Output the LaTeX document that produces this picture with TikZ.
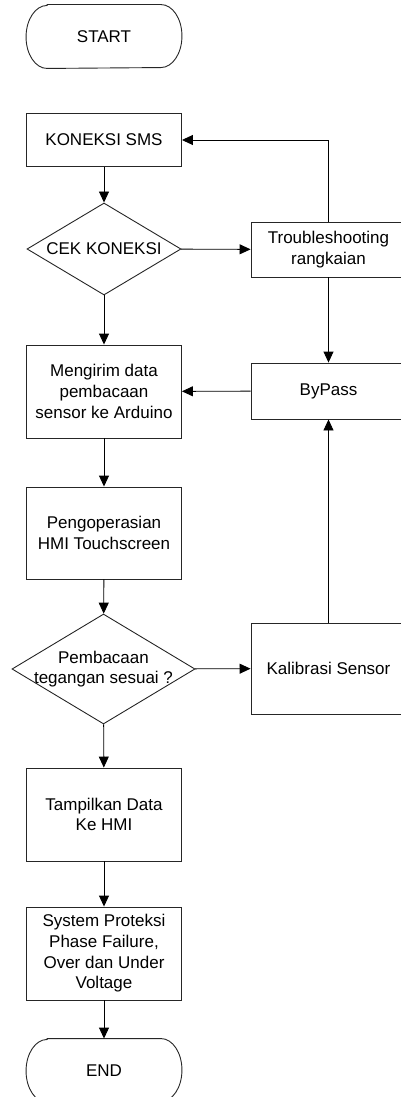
\documentclass[tikz,border=0pt]{standalone}
\usepackage{fontspec}
\setmainfont{Liberation Sans}
\usetikzlibrary{arrows.meta,shapes.geometric}
\begin{document}
\begin{tikzpicture}[x=1pt,y=-1pt,
  font=\fontsize{17}{20.7}\selectfont,
  line width=0.9pt,
  box/.style={draw=black!85, minimum width=155pt, align=center, inner sep=2pt},
  term/.style={minimum width=155pt, minimum height=63pt, align=center},
  dec/.style={diamond, draw=black!85, align=center, inner sep=0pt},
  lbl/.style={align=center, inner sep=0pt},
  arr/.style={-{Triangle[length=11pt,width=10pt]}, draw=black},
  con/.style={draw=black}
]
\useasboundingbox (0,0) rectangle (401,1097);
\clip (0,0) rectangle (401,1097);
\fill[white] (0,0) rectangle (401,1097);

% nodes
\node[term] (start) at (104,36.5) {START};
\node[box, minimum height=53pt] (sms) at (104,140) {KONEKSI SMS};
\node[dec, minimum width=154pt, minimum height=92pt] (cek) at (104,249) {};
\node[lbl] (cekt) at (cek.center) {CEK KONEKSI};
\node[box, minimum height=55pt] (tb) at (328.5,249.5) {Troubleshooting\\rangkaian};
\node[box, minimum height=56pt] (bp) at (328.5,391) {ByPass};
\node[box, minimum height=93pt] (kirim) at (104,391.5) {Mengirim data\\pembacaan\\sensor ke Arduino};
\node[box, minimum height=92pt] (hmi) at (104,533) {Pengoperasian\\HMI Touchscreen};
\node[dec, minimum width=183pt, minimum height=110pt] (teg) at (103.5,669) {};
\node[lbl] (tegt) at (teg.center) {Pembacaan\\tegangan sesuai ?};
\node[box, minimum height=91pt] (kal) at (328.5,668.5) {Kalibrasi Sensor};
\node[box, minimum height=93pt] (tamp) at (104,814.5) {Tampilkan Data\\Ke HMI};
\node[box, minimum height=93pt] (sys) at (104,953.5) {System Proteksi\\Phase Failure,\\Over dan Under\\Voltage};
\node[term] (end) at (104,1070.5) {END};

% terminal outlines (elliptical ends)
\foreach \t in {start,end}{
  \draw[black!85] ([xshift=21pt]\t.north west) -- ([xshift=-21pt]\t.north east)
    arc[start angle=90,end angle=-90,x radius=21pt,y radius=31.5pt]
    -- ([xshift=21pt]\t.south west)
    arc[start angle=270,end angle=90,x radius=21pt,y radius=31.5pt] -- cycle;
}

% connectors
\draw[arr] (sms) -- (cek);
\draw[arr] (cek) -- (tb);
\draw[arr] (tb.north) |- (sms.east);
\draw[arr] (tb) -- (bp);
\draw[arr] (bp) -- (kirim);
\draw[arr] (cek) -- (kirim);
\draw[arr] (kirim) -- (hmi);
\draw[arr] (hmi) -- (teg);
\draw[arr] (teg) -- (kal);
\draw[arr] (kal) -- (bp);
\draw[arr] (teg) -- (tamp);
\draw[arr] (tamp) -- (sys);
\draw[arr] (sys) -- (end);
\end{tikzpicture}
\end{document}
